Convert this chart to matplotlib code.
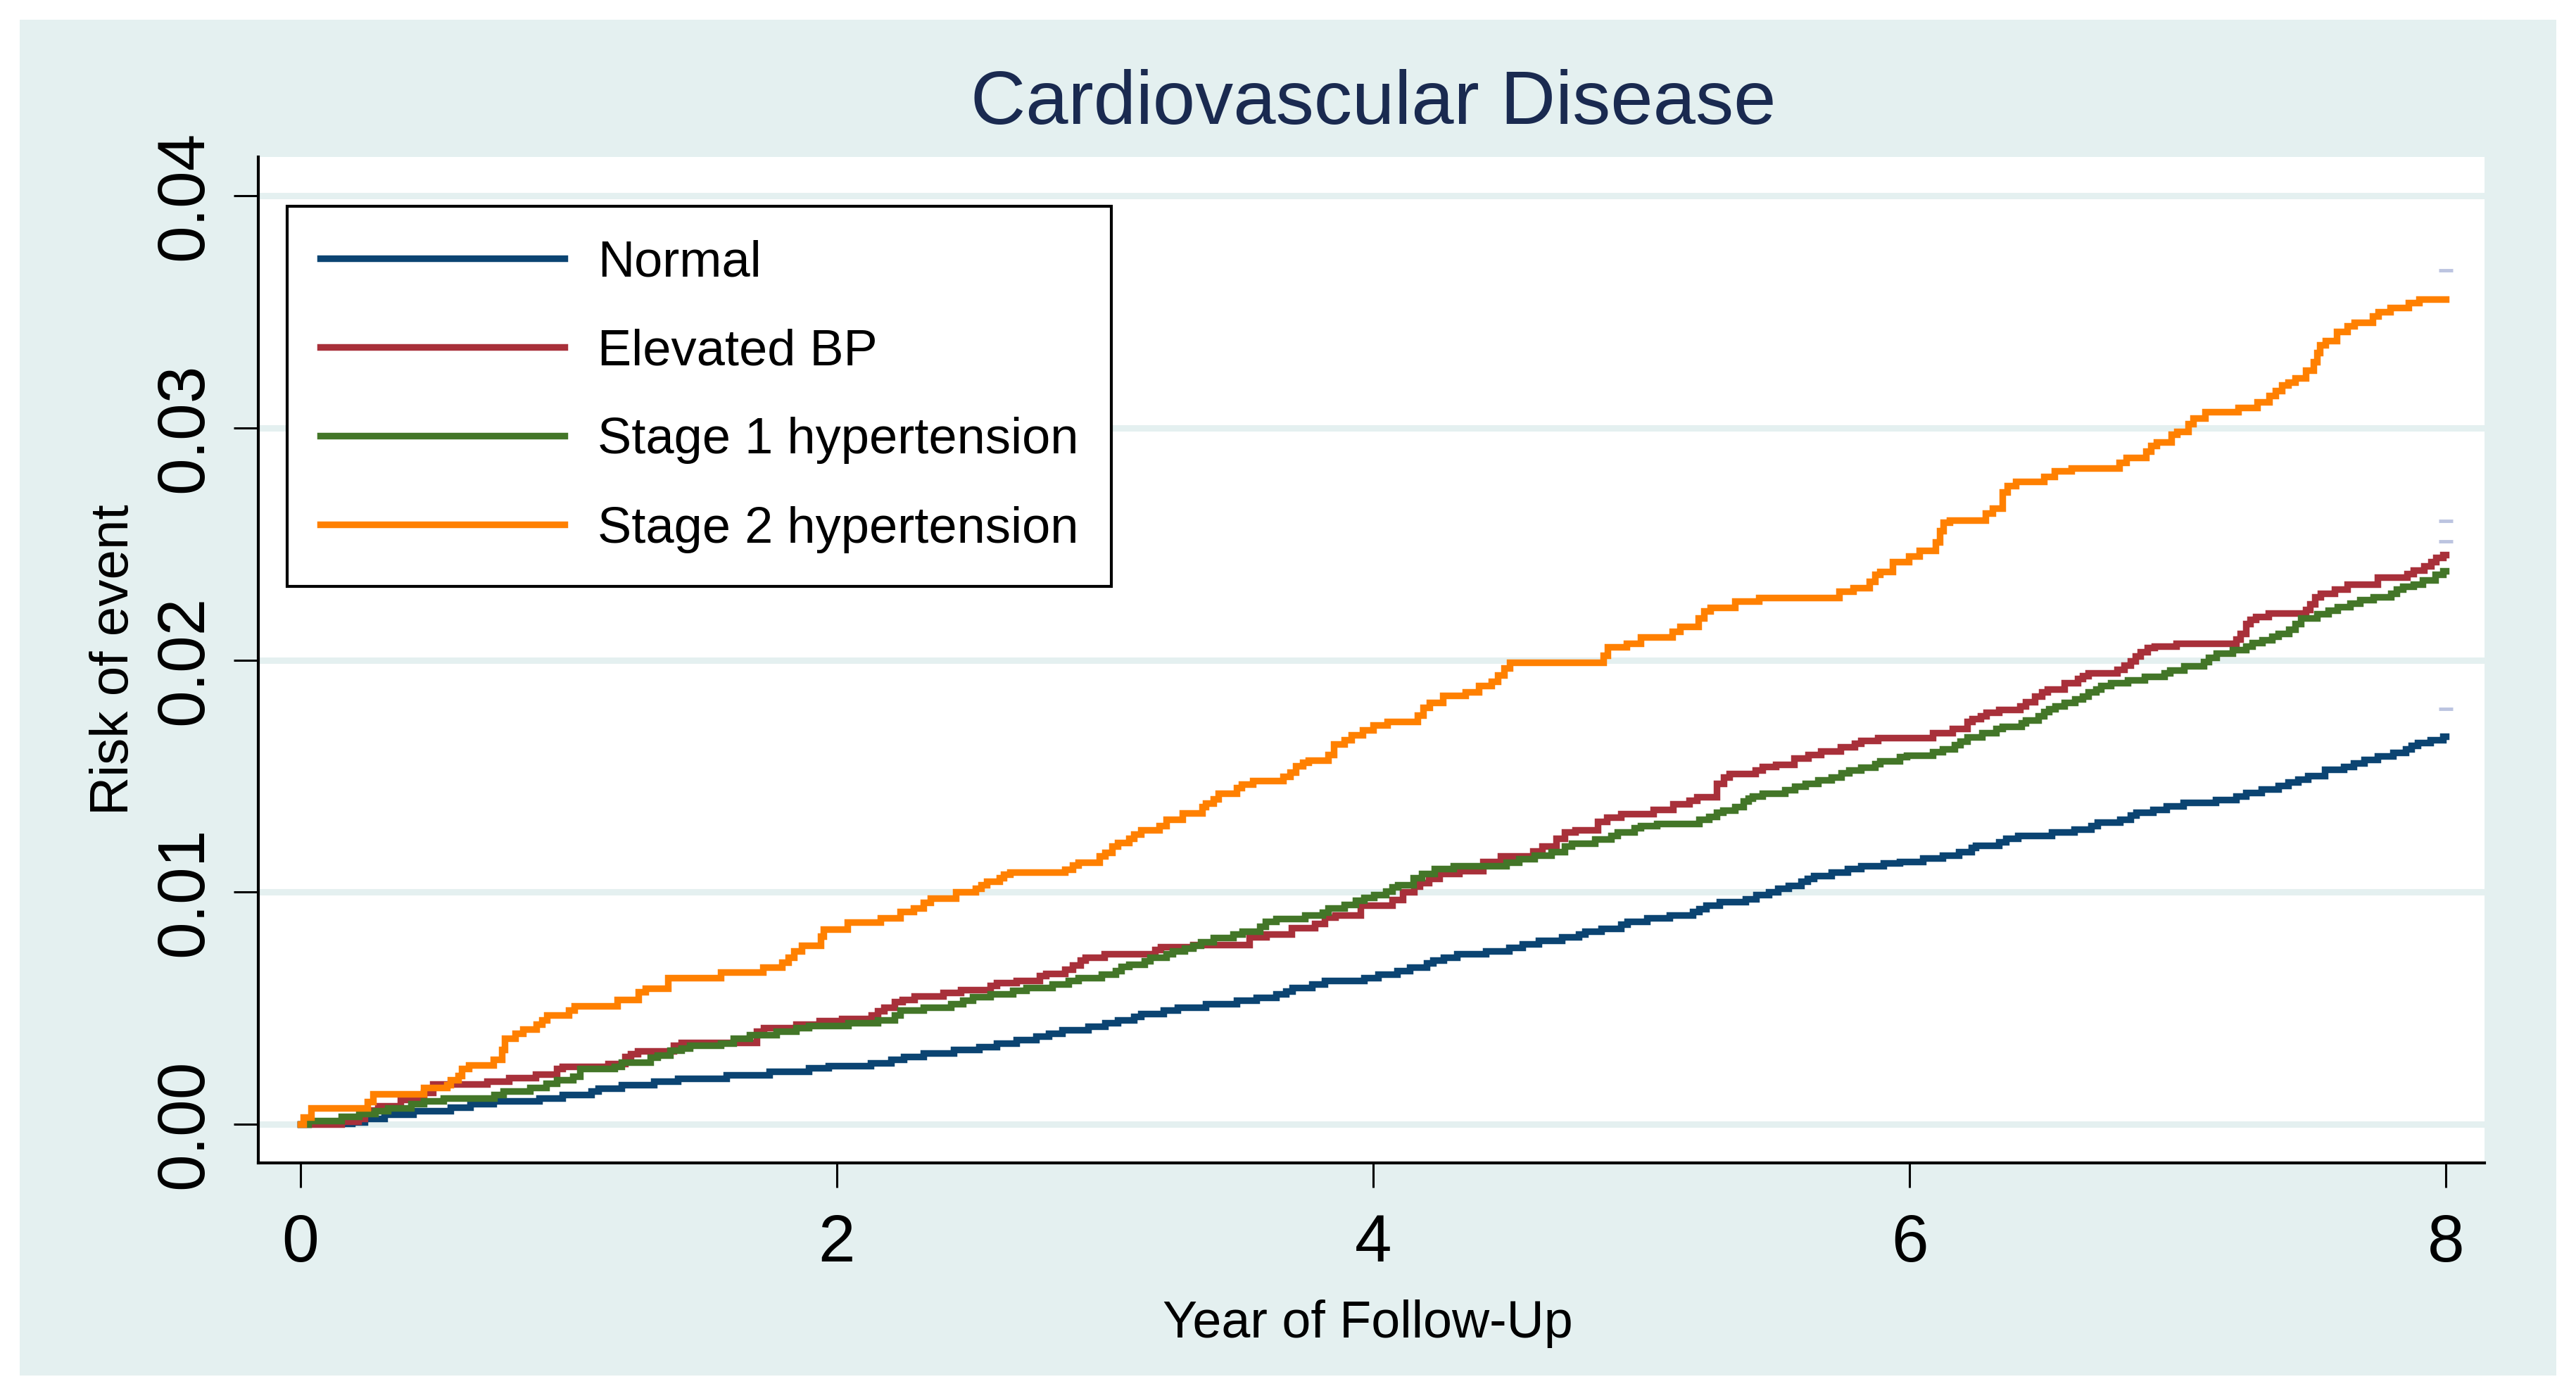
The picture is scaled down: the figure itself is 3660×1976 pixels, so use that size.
import matplotlib
matplotlib.use("Agg")
import matplotlib.pyplot as plt
from matplotlib.patches import Rectangle

# Kaplan-Meier style cumulative risk
# each list: year where a step starts, and the risk from that year on
normal_t = [0, 0.03, 0.192, 0.239, 0.3125, 0.42, 0.56, 0.634, 0.72, 0.889, 0.976, 1.084, 1.11, 1.198,
            1.318, 1.406, 1.589, 1.748, 1.895, 1.969, 2.126, 2.203, 2.25, 2.323, 2.435, 2.531, 2.596,
            2.668, 2.743, 2.789, 2.84, 2.938, 3.0, 3.048, 3.108, 3.135, 3.219, 3.269, 3.376, 3.49, 3.564,
            3.638, 3.674, 3.698, 3.772, 3.819, 3.966, 4.017, 4.089, 4.137, 4.2, 4.223, 4.263, 4.311,
            4.419, 4.506, 4.555, 4.616, 4.703, 4.767, 4.79, 4.85, 4.924, 4.947, 5.022, 5.105, 5.192,
            5.215, 5.242, 5.29, 5.387, 5.427, 5.474, 5.51, 5.548, 5.595, 5.618, 5.644, 5.709, 5.769,
            5.819, 5.903, 5.964, 6.05, 6.124, 6.184, 6.231, 6.247, 6.332, 6.358, 6.405, 6.529, 6.613,
            6.676, 6.7, 6.784, 6.824, 6.845, 6.908, 6.958, 7.02, 7.14, 7.217, 7.253, 7.311, 7.374, 7.411,
            7.449, 7.485, 7.548, 7.619, 7.655, 7.696, 7.744, 7.803, 7.851, 7.87, 7.894, 7.941, 7.988]
normal_y = [0, 0.00003, 0.0001, 0.00023, 0.00041, 0.00056, 0.00071, 0.00087, 0.00099, 0.00112, 0.00127,
            0.00141, 0.00155, 0.00169, 0.00184, 0.00197, 0.00211, 0.00226, 0.00243, 0.00252, 0.00263,
            0.0028, 0.00291, 0.00305, 0.0032, 0.00334, 0.00348, 0.00365, 0.00379, 0.00392, 0.00406,
            0.0042, 0.00435, 0.00448, 0.00465, 0.00476, 0.00491, 0.00504, 0.00519, 0.00533, 0.00547,
            0.0056, 0.00574, 0.00589, 0.00603, 0.00617, 0.00631, 0.00647, 0.0066, 0.00676, 0.00693,
            0.00706, 0.0072, 0.00733, 0.00746, 0.00761, 0.00775, 0.0079, 0.00805, 0.00818, 0.00831,
            0.00844, 0.00861, 0.00874, 0.00887, 0.009, 0.00916, 0.00929, 0.00942, 0.00958, 0.00971,
            0.00987, 0.01001, 0.01016, 0.01028, 0.01045, 0.01058, 0.01069, 0.01086, 0.011, 0.01113,
            0.01124, 0.0113, 0.01146, 0.01158, 0.01172, 0.01192, 0.01201, 0.01215, 0.0123, 0.01244,
            0.01258, 0.0127, 0.01287, 0.01301, 0.01313, 0.0133, 0.01342, 0.01356, 0.0137, 0.01387,
            0.01399, 0.01412, 0.01428, 0.01442, 0.01459, 0.01473, 0.01485, 0.01502, 0.01527, 0.01541,
            0.01557, 0.0157, 0.01586, 0.016, 0.01617, 0.01631, 0.01643, 0.01656, 0.01672]

elevated_t = [0, 0.152, 0.215, 0.239, 0.29, 0.373, 0.46, 0.494, 0.695, 0.778, 0.876, 0.956, 0.976, 1.148,
              1.211, 1.231, 1.258, 1.392, 1.419, 1.70, 1.727, 1.848, 1.935, 2.019, 2.129, 2.153, 2.176,
              2.216, 2.243, 2.29, 2.397, 2.462, 2.571, 2.596, 2.668, 2.757, 2.779, 2.85, 2.88, 2.907,
              2.927, 2.998, 3.186, 3.208, 3.329, 3.537, 3.601, 3.695, 3.781, 3.819, 3.859, 3.953, 4.072,
              4.11, 4.153, 4.173, 4.207, 4.247, 4.321, 4.408, 4.475, 4.596, 4.629, 4.683, 4.714, 4.754,
              4.837, 4.871, 4.924, 5.045, 5.119, 5.179, 5.206, 5.28, 5.306, 5.327, 5.424, 5.451, 5.501,
              5.568, 5.622, 5.669, 5.742, 5.796, 5.819, 5.881, 6.086, 6.161, 6.215, 6.234, 6.265, 6.285,
              6.332, 6.412, 6.432, 6.466, 6.493, 6.515, 6.577, 6.627, 6.644, 6.667, 6.774, 6.801, 6.824,
              6.841, 6.861, 6.886, 6.912, 6.995, 7.217, 7.234, 7.253, 7.27, 7.291, 7.337, 7.478, 7.494,
              7.512, 7.532, 7.586, 7.633, 7.744, 7.854, 7.878, 7.918, 7.945, 7.964, 7.988]
elevated_y = [0, 0.00011, 0.00024, 0.0006, 0.00077, 0.00107, 0.00137, 0.00172, 0.00185, 0.002, 0.00216,
              0.00238, 0.00248, 0.0026, 0.0029, 0.00303, 0.00316, 0.00338, 0.00352, 0.00399, 0.00414,
              0.00429, 0.00444, 0.00454, 0.0047, 0.00488, 0.00502, 0.00527, 0.00538, 0.00552, 0.00566,
              0.0058, 0.00596, 0.00608, 0.00619, 0.00639, 0.0065, 0.00667, 0.00686, 0.00706, 0.0072,
              0.00734, 0.00751, 0.00765, 0.00774, 0.00805, 0.00818, 0.00846, 0.00865, 0.00891, 0.00902,
              0.00942, 0.00966, 0.01001, 0.01024, 0.01041, 0.01058, 0.0108, 0.01093, 0.01132, 0.01155,
              0.01178, 0.01198, 0.01231, 0.01257, 0.01267, 0.01303, 0.01322, 0.01338, 0.01355, 0.01381,
              0.01394, 0.0141, 0.01467, 0.01495, 0.01509, 0.01526, 0.01539, 0.0155, 0.01577, 0.01591,
              0.01608, 0.01624, 0.0164, 0.01653, 0.01665, 0.01686, 0.01703, 0.01734, 0.01746, 0.0176,
              0.01773, 0.01785, 0.01802, 0.0182, 0.01845, 0.01861, 0.01875, 0.019, 0.01919, 0.01933,
              0.01943, 0.0196, 0.01978, 0.01995, 0.02017, 0.02034, 0.02052, 0.0206, 0.02072, 0.02091,
              0.02115, 0.02155, 0.02175, 0.02187, 0.02201, 0.02218, 0.02241, 0.0227, 0.02287, 0.02304,
              0.02326, 0.02357, 0.02373, 0.02387, 0.02404, 0.02424, 0.02442, 0.02455]

stage1_t = [0, 0.03, 0.152, 0.218, 0.279, 0.326, 0.413, 0.46, 0.534, 0.721, 0.755, 0.855, 0.916, 0.956,
            1.017, 1.043, 1.171, 1.198, 1.305, 1.332, 1.379, 1.419, 1.452, 1.566, 1.614, 1.674, 1.774,
            1.848, 1.895, 2.042, 2.153, 2.216, 2.236, 2.323, 2.424, 2.471, 2.507, 2.571, 2.655, 2.706,
            2.802, 2.864, 2.9, 2.987, 3.038, 3.061, 3.088, 3.146, 3.168, 3.229, 3.253, 3.296, 3.329,
            3.356, 3.403, 3.477, 3.513, 3.577, 3.597, 3.638, 3.745, 3.812, 3.832, 3.893, 3.933, 3.966,
            4.003, 4.046, 4.07, 4.093, 4.15, 4.18, 4.227, 4.3, 4.495, 4.542, 4.602, 4.665, 4.714, 4.74,
            4.826, 4.888, 4.911, 4.974, 4.998, 5.058, 5.215, 5.253, 5.28, 5.304, 5.349, 5.38, 5.398,
            5.414, 5.451, 5.534, 5.572, 5.612, 5.658, 5.709, 5.746, 5.773, 5.819, 5.87, 5.89, 5.964,
            5.988, 6.086, 6.124, 6.167, 6.188, 6.215, 6.271, 6.322, 6.345, 6.416, 6.432, 6.479, 6.502,
            6.519, 6.542, 6.577, 6.617, 6.644, 6.667, 6.694, 6.714, 6.751, 6.814, 6.875, 6.949, 6.971,
            7.022, 7.096, 7.116, 7.143, 7.203, 7.253, 7.277, 7.315, 7.351, 7.374, 7.414, 7.438, 7.458,
            7.519, 7.562, 7.596, 7.642, 7.68, 7.73, 7.794, 7.816, 7.84, 7.878, 7.914, 7.961, 7.988]
stage1_y = [0, 0.00014, 0.00033, 0.00046, 0.00058, 0.00068, 0.00087, 0.00099, 0.00112, 0.00127, 0.00142,
            0.00157, 0.00175, 0.00192, 0.00207, 0.00238, 0.00248, 0.00268, 0.00288, 0.00298, 0.00318,
            0.00328, 0.00338, 0.00348, 0.0037, 0.00384, 0.00399, 0.00414, 0.00424, 0.00435, 0.00448,
            0.0047, 0.00491, 0.00504, 0.00518, 0.00533, 0.00549, 0.0056, 0.00577, 0.00588, 0.00603,
            0.00619, 0.00631, 0.00647, 0.00661, 0.00678, 0.00689, 0.00704, 0.00717, 0.00734, 0.00745,
            0.00757, 0.00771, 0.00785, 0.00802, 0.00818, 0.0083, 0.00852, 0.00872, 0.00886, 0.00899,
            0.00914, 0.0093, 0.00947, 0.00964, 0.00975, 0.00988, 0.01005, 0.01021, 0.01031, 0.0106,
            0.0108, 0.011, 0.01113, 0.01128, 0.01142, 0.01157, 0.01172, 0.01198, 0.01211, 0.01228,
            0.01244, 0.01257, 0.01277, 0.01286, 0.01296, 0.01312, 0.01325, 0.01342, 0.01351, 0.01368,
            0.01391, 0.01404, 0.01414, 0.01425, 0.0144, 0.01456, 0.01467, 0.01482, 0.01495, 0.01512,
            0.01524, 0.01537, 0.01552, 0.01564, 0.01582, 0.0159, 0.01603, 0.01617, 0.01634, 0.01651,
            0.01668, 0.01686, 0.01703, 0.01713, 0.0173, 0.01742, 0.0176, 0.01777, 0.01789, 0.01802,
            0.01816, 0.01832, 0.01845, 0.01861, 0.01875, 0.01888, 0.019, 0.01914, 0.01928, 0.01943,
            0.01957, 0.01974, 0.01991, 0.02012, 0.02029, 0.02043, 0.0206, 0.02074, 0.02086, 0.02103,
            0.02115, 0.02132, 0.02155, 0.0218, 0.02198, 0.02215, 0.02229, 0.02244, 0.02258, 0.0227,
            0.02287, 0.02304, 0.02318, 0.02326, 0.02344, 0.02369, 0.02383]

stage2_t = [0, 0.011, 0.04, 0.25, 0.27, 0.46, 0.547, 0.56, 0.587, 0.60, 0.628, 0.72, 0.75, 0.76, 0.80,
            0.83, 0.88, 0.90, 0.92, 1.00, 1.02, 1.18, 1.26, 1.285, 1.37, 1.567, 1.725, 1.795, 1.82, 1.84,
            1.87, 1.94, 1.95, 2.04, 2.162, 2.236, 2.287, 2.323, 2.35, 2.444, 2.518, 2.538, 2.558, 2.605,
            2.621, 2.645, 2.85, 2.88, 2.90, 2.98, 3.0, 3.027, 3.048, 3.088, 3.108, 3.135, 3.202, 3.229,
            3.289, 3.363, 3.376, 3.403, 3.423, 3.49, 3.51, 3.55, 3.665, 3.691, 3.711, 3.738, 3.758,
            3.832, 3.852, 3.893, 3.919, 3.96, 4.0, 4.052, 4.166, 4.187, 4.209, 4.26, 4.343, 4.394,
            4.441, 4.464, 4.488, 4.508, 4.857, 4.875, 4.944, 4.998, 5.116, 5.143, 5.213, 5.233, 5.256,
            5.349, 5.438, 5.736, 5.789, 5.85, 5.87, 5.89, 5.937, 5.997, 6.037, 6.097, 6.113, 6.126,
            6.15, 6.282, 6.309, 6.345, 6.365, 6.395, 6.502, 6.539, 6.604, 6.781, 6.808, 6.881, 6.899,
            6.922, 6.975, 6.998, 7.038, 7.056, 7.103, 7.226, 7.297, 7.341, 7.364, 7.387, 7.411, 7.438,
            7.478, 7.505, 7.519, 7.529, 7.552, 7.592, 7.633, 7.659, 7.726, 7.747, 7.793, 7.861, 7.901]
stage2_y = [0, 0.0003, 0.0007, 0.00097, 0.00129, 0.00157, 0.0017, 0.0019, 0.0021, 0.0024, 0.00253,
            0.0028, 0.0032, 0.0037, 0.0039, 0.0041, 0.0043, 0.0045, 0.0047, 0.0049, 0.0051, 0.00535,
            0.0057, 0.00585, 0.0063, 0.00656, 0.00676, 0.00696, 0.0072, 0.00746, 0.0077, 0.0081, 0.0084,
            0.0087, 0.00888, 0.00916, 0.0093, 0.00955, 0.00973, 0.01, 0.01015, 0.0103, 0.01045, 0.0106,
            0.01076, 0.01087, 0.01099, 0.01115, 0.01127, 0.01155, 0.0117, 0.01197, 0.01213, 0.0123,
            0.0125, 0.01267, 0.01287, 0.01312, 0.0134, 0.01368, 0.01384, 0.014, 0.01424, 0.01448,
            0.01466, 0.0148, 0.01497, 0.01516, 0.01544, 0.01558, 0.01567, 0.01592, 0.01637, 0.01657,
            0.01676, 0.01698, 0.0172, 0.01734, 0.01761, 0.01794, 0.01818, 0.01847, 0.01862, 0.01889,
            0.01908, 0.01936, 0.01965, 0.01988, 0.0202, 0.02056, 0.02072, 0.021, 0.02122, 0.02143,
            0.02181, 0.02211, 0.02227, 0.02253, 0.02269, 0.02295, 0.02311, 0.02338, 0.02368, 0.02381,
            0.02423, 0.02447, 0.02472, 0.02507, 0.02558, 0.02593, 0.02601, 0.02631, 0.02653, 0.02722,
            0.02751, 0.02768, 0.0279, 0.02813, 0.02828, 0.0285, 0.02871, 0.02899, 0.02923, 0.0294,
            0.02971, 0.02985, 0.03017, 0.03043, 0.0307, 0.03086, 0.03113, 0.03139, 0.0316, 0.03186,
            0.03198, 0.03215, 0.03249, 0.03284, 0.03323, 0.03357, 0.03375, 0.03414, 0.03438, 0.03455,
            0.03483, 0.035, 0.03517, 0.03538, 0.03555]

end_year = 8.0
# faint marks at the right end of each curve
edge_marks = [0.0368, 0.0260, 0.0251, 0.0179]

labels = ["Normal", "Elevated BP", "Stage 1 hypertension", "Stage 2 hypertension"]
colors = ["#0B4472", "#A8303A", "#437628", "#FF8000"]
x_ticks = [0, 2, 4, 6, 8]
y_ticks = [0.00, 0.01, 0.02, 0.03, 0.04]

bg = "#E4F0F0"
plt.rcParams['font.family'] = ['Liberation Sans', 'DejaVu Sans']

fig = plt.figure(figsize=(36.6, 19.76), dpi=100, facecolor="white")
# light outer panel, kept under the axes
fig.patches.append(Rectangle((0.00765, 0.0111), 0.9847, 0.9747, transform=fig.transFigure,
                             facecolor=bg, edgecolor="none", zorder=-5))
ax = fig.add_axes([0.1003, 0.164, 0.8642, 0.7231])
ax.set_facecolor("white")
ax.set_zorder(1)

series = [(normal_t, normal_y), (elevated_t, elevated_y), (stage1_t, stage1_y), (stage2_t, stage2_y)]
for (t, y), lab, c in zip(series, labels, colors):
    ax.plot(list(t) + [end_year], list(y) + [y[-1]], drawstyle="steps-post",
            color=c, lw=6.8, label=lab, solid_joinstyle="miter", zorder=3)

ax.plot([end_year] * len(edge_marks), edge_marks, ls="none", marker="_", ms=14,
        mew=3.5, color="#BCC4E0", zorder=2)

ax.set_xlim(-0.157, 8.144)
ax.set_ylim(-0.00167, 0.04167)
ax.set_xticks(x_ticks)
ax.set_xticklabels([str(v) for v in x_ticks])
ax.set_yticks(y_ticks)
ax.set_yticklabels(["{:.2f}".format(v) for v in y_ticks], rotation=90, va="center")

ax.yaxis.grid(True, color=bg, lw=6.5)
ax.set_axisbelow(True)
for s in ["top", "right"]:
    ax.spines[s].set_visible(False)
for s in ["left", "bottom"]:
    ax.spines[s].set_linewidth(3)
ax.tick_params(axis="both", direction="out", length=25, width=2.2, labelsize=68)
ax.tick_params(axis="x", pad=26)
ax.tick_params(axis="y", pad=18)

# title and axis titles
fig.text(0.533, 0.911, "Cardiovascular Disease", ha="center", va="baseline",
         fontsize=78, color="#1A2A50")
fig.text(0.531, 0.0385, "Year of Follow-Up", ha="center", va="baseline", fontsize=53, color="black")
fig.text(0.0497, 0.5255, "Risk of event", rotation=90, rotation_mode="anchor",
         ha="center", va="baseline", fontsize=55, color="black")

leg = ax.legend(loc="upper left", bbox_to_anchor=(0.013, 0.951), borderaxespad=0,
                fontsize=52, handlelength=4.8, handletextpad=0.65, labelspacing=0.82,
                borderpad=0.65, fancybox=False, framealpha=1)
leg.get_frame().set_edgecolor("black")
leg.get_frame().set_linewidth(3)
leg.set_zorder(5)

plt.savefig("out.png", dpi=100, facecolor="white")
